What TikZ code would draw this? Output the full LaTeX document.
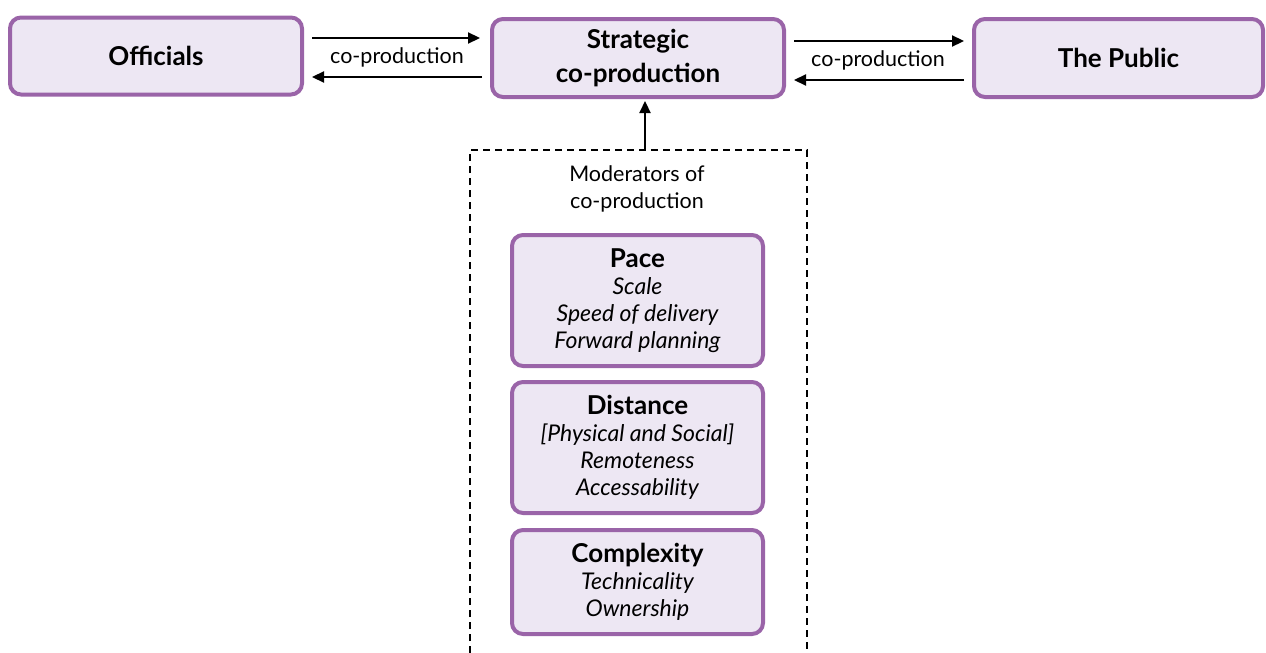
\documentclass[tikz,border=0pt]{standalone}
\usepackage{fontspec}
\setmainfont{Lato}
\usetikzlibrary{calc,arrows.meta}
\definecolor{bordc}{HTML}{9A64A8}
\definecolor{fillc}{HTML}{EDE7F3}
\tikzset{
  box/.style={draw=bordc, fill=fillc, line width=4pt, rounded corners=11pt, align=center, inner sep=0pt},
  topbox/.style={box, font=\fontsize{26}{34}\selectfont\bfseries},
  modbox/.style={box, font=\fontsize{23}{27}\selectfont\itshape},
  arr/.style={line width=2.2pt, -{Triangle[length=12pt,width=11pt]}},
  lbl/.style={font=\fontsize{21.5}{27}\selectfont, inner sep=0pt, align=center},
  dashedline/.style={line width=2.2pt, dash pattern=on 7pt off 5pt},
}
\newcommand{\hd}[1]{{\fontsize{26}{27}\selectfont\upshape\bfseries #1}}
\begin{document}
\begin{tikzpicture}[x=1pt,y=-1pt]
\useasboundingbox (0,0) rectangle (1266,653);
% top row
\node[topbox, minimum width=292pt, minimum height=77pt] (off) at (156,56) {Officials};
\node[topbox, minimum width=292pt, minimum height=78pt] (str) at (638,58) {Strategic\\co-production};
\node[topbox, minimum width=289pt, minimum height=78pt] (pub) at (1118.5,58) {The Public};
% arrows left
\draw[arr, shorten <=8pt, shorten >=10pt] ($(off.east)+(0,-18)$) -- ($(str.west |- off.east)+(0,-18)$);
\draw[arr, shorten <=8pt, shorten >=8pt] ($(str.west)+(0,19)$) -- ($(off.east |- str.west)+(0,19)$);
\node[lbl] (l1) at (397,57) {co-production};
% arrows right
\draw[arr, shorten <=8pt, shorten >=8pt] ($(str.east)+(0,-17)$) -- ($(pub.west)+(0,-17)$);
\draw[arr, shorten <=8pt, shorten >=8pt] ($(pub.west)+(0,22)$) -- ($(str.east)+(0,22)$);
\node[lbl] (l2) at (878,60) {co-production};
% dashed moderators frame (open at bottom)
\coordinate (dbl) at (470,653);
\coordinate (dtl) at (470,150);
\coordinate (dtr) at (807,150);
\coordinate (dbr) at (807,653);
\draw[dashedline] (dbl) -- (dtl) -- (dtr) -- (dbr);
\coordinate (dtop) at (645,150);
\draw[arr, shorten >=2pt] (dtop) -- (dtop |- str.south);
\node[lbl] (mod) at (637,189) {Moderators of\\co-production};
% moderator boxes
\node[modbox, minimum width=251pt, minimum height=131pt] (pace) at (637.5,300.5)
  {\hd{Pace}\\Scale\\Speed of delivery\\Forward planning};
\node[modbox, minimum width=251pt, minimum height=131pt] (dist) at (637.5,447.5)
  {\hd{Distance}\\{}[Physical and Social]\\Remoteness\\Accessability};
\node[modbox, minimum width=251pt, minimum height=104pt] (comp) at (637.5,582)
  {\hd{Complexity}\\Technicality\\Ownership};
\end{tikzpicture}
\end{document}
